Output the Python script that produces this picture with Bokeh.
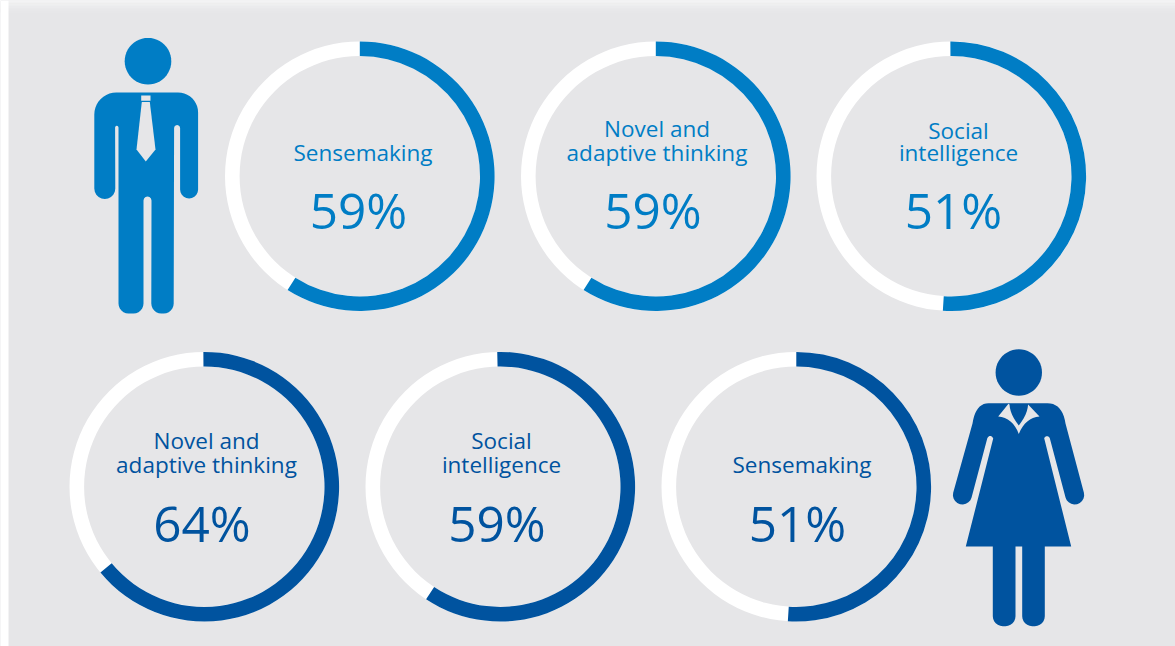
import math
from bokeh.plotting import figure
from bokeh.models import Range1d
from bokeh.core.properties import value
from bokeh.embed import file_html
from bokeh.resources import INLINE

# ---- data ----
men_labels = ["Sensemaking", "Novel and\nadaptive thinking", "Social\nintelligence"]
men_values = [59, 59, 51]
women_labels = ["Novel and\nadaptive thinking", "Social\nintelligence", "Sensemaking"]
women_values = [64, 59, 51]

# ---- style / layout ----
BG = "#e6e6e8"
MEN = "#007dc5"
WOMEN = "#00539f"
FONT = "Open Sans"
W, H = 1175, 646
R_OUT, R_IN = 134.8, 120.2
men_cx = [359.3, 655.3, 950.8]
women_cx = [203.8, 499.8, 795.8]
men_start_turn = [0.0, 0.0, -0.4]
men_end_turn = [0.0, 0.0, 0.0]
women_start_turn = [-0.4, -1.3, 0.0]
women_end_turn = [0.0, 1.0, 0.0]
men_label_x = [362.5, 656.5, 958.0]
women_label_x = [206.0, 501.0, 801.5]
men_pct_x = [358.0, 652.5, 953.0]
women_pct_x = [201.5, 496.5, 797.0]
men_gap = [24, 24, 22]
women_gap = [24, 24, 24]
men_cy, women_cy = 175.7, 486.2
LABEL_SIZE, PCT_SIZE = 22.5, 49.5
BASE_SHIFT = 0.4  # the svg text baseline sits this many font sizes below the anchor


def Y(y):
    """Page-pixel y (downwards) to plot y (upwards)."""
    return H - y


p = figure(width=W, height=H, x_range=Range1d(0, W), y_range=Range1d(0, H),
           output_backend="svg", toolbar_location=None, min_border=0,
           background_fill_color=BG, border_fill_color=BG, outline_line_color=None)
p.axis.visible = False
p.grid.visible = False


def shape(pts, color):
    p.patch([q[0] for q in pts], [Y(q[1]) for q in pts], fill_color=color, line_color=None)


def arc(cx, cy, r, a0, a1, n=10):
    """Points on an arc; angles in degrees, screen sense (y downwards)."""
    return [(cx + r * math.cos(math.radians(a0 + (a1 - a0) * i / n)),
             cy + r * math.sin(math.radians(a0 + (a1 - a0) * i / n))) for i in range(n + 1)]


def bez(a, c, b, n=10):
    """Quadratic curve from a to b, with control point c."""
    out = []
    for i in range(n + 1):
        t = i / n
        out.append(((1 - t) ** 2 * a[0] + 2 * t * (1 - t) * c[0] + t * t * b[0],
                    (1 - t) ** 2 * a[1] + 2 * t * (1 - t) * c[1] + t * t * b[1]))
    return out


# page edge: white left strip, soft light band at the top
top_shades = ["#f3f3f4", "#f1f1f2", "#efeff0", "#edeeef", "#ebebed", "#e9e9eb", "#e8e8ea", "#e7e7e9"]
for i, c in enumerate(top_shades):
    shape([(0, i * 1.5), (W, i * 1.5), (W, i * 1.5 + 1.6), (0, i * 1.5 + 1.6)], c)
shape([(0, 0), (8, 0), (8, H), (0, H)], "#ffffff")


def ring(cxs, cy, vals, labels, color, label_x, pct_x, gaps, start_turn, end_turn, label_dy, pct_dy):
    ys = [Y(cy)] * len(cxs)
    p.annular_wedge(x=cxs, y=ys, inner_radius=R_IN, outer_radius=R_OUT,
                    start_angle=0, end_angle=2 * math.pi - 1e-6, direction="anticlock",
                    fill_color="white", line_color=None)
    p.annular_wedge(x=cxs, y=ys, inner_radius=R_IN, outer_radius=R_OUT,
                    start_angle=[math.pi / 2 - math.radians(t) for t in start_turn],
                    end_angle=[math.pi / 2 - 2 * math.pi * v / 100 - math.radians(t)
                               for v, t in zip(vals, end_turn)],
                    direction="clock", fill_color=color, line_color=None)
    tx, ty, tt = [], [], []
    for lx, lab, gap in zip(label_x, labels, gaps):
        for i, line in enumerate(reversed(lab.split("\n"))):
            tx.append(lx)
            ty.append(Y(cy + label_dy - i * gap - BASE_SHIFT * LABEL_SIZE))
            tt.append(line)
    p.text(x=tx, y=ty, text=tt, text_font=value(FONT), text_font_size=f"{LABEL_SIZE}px",
           text_color=color, text_align="center", text_baseline="alphabetic")
    p.text(x=pct_x, y=[Y(cy + pct_dy - BASE_SHIFT * PCT_SIZE)] * len(cxs), text=[f"{v}%" for v in vals],
           text_font=value(FONT), text_font_size=f"{PCT_SIZE}px",
           text_color=color, text_align="center", text_baseline="alphabetic")


# ---- man ----
shape(arc(147.5, 60.7, 23.3, 0, 360, 48), MEN)
man = [(116, 92)]
man += arc(177.6, 112, 20, -90, 0)
man += arc(188.6, 189, 9, 0, 180)
man += arc(176.6, 127.5, 3, 0, -180, 6)
man += arc(163.2, 303, 10, 0, 90, 6)
man += arc(160.8, 303, 10, 90, 180, 6)
man += arc(147, 200, 4, 0, -180, 6)
man += arc(133, 303, 10, 0, 90, 6)
man += arc(128, 303, 10, 90, 180, 6)
man += arc(116.3, 127, 1.7, 0, -180, 6)
man += arc(104.3, 188, 10.5, 0, 180)
man += arc(115.8, 114, 22, 180, 270)
shape(man, MEN)
shape([(140.7, 95), (150, 95), (150, 100.3), (140.7, 100.3)], BG)
shape([(141.3, 101.5), (149.3, 101.5), (155, 149), (145.3, 161), (136, 149)], BG)

# ---- woman ----
shape(arc(1018.3, 372, 23.2, 0, 360, 48), WOMEN)
woman = [(988, 402.7)]
woman += bez((1047, 402.7), (1062, 403), (1065, 423))
woman += arc(1074.2, 494.5, 9.5, -14, 165)
woman += arc(1046.5, 438.5, 2.9, -15, -165, 5)
woman += [(1070.7, 546), (1044.3, 546)]
woman += arc(1034.3, 615.7, 10, 0, 90, 6)
woman += arc(1031.7, 615.7, 10, 90, 180, 6)
woman += [(1021.7, 546), (1015, 546)]
woman += arc(1005, 615.7, 10, 0, 90, 6)
woman += arc(1002.3, 615.7, 10, 90, 180, 6)
woman += [(992.3, 546), (965.3, 546), (992.7, 438)]
woman += arc(989.7, 438.5, 3, -15, -165, 5)
woman += arc(961.9, 494.5, 9.5, 15, 194)
woman += bez((972, 423), (975, 403), (988, 402.7))
shape(woman, WOMEN)
collar = [(1008, 403.3)]
collar += bez((1009, 404), (1009.5, 414), (1018.3, 425), 6)
collar += bez((1018.3, 425), (1027, 414), (1027.6, 404), 6)
collar += [(1039, 416)]
collar += bez((1039, 416), (1025, 417), (1018.3, 433.5), 8)
collar += bez((1018.3, 433.5), (1012, 417), (997.7, 416), 8)
shape(collar, BG)

# ---- rings ----
ring(men_cx, men_cy, men_values, men_labels, MEN, men_label_x, men_pct_x, men_gap,
     men_start_turn, men_end_turn, -14.5, 54.0)
ring(women_cx, women_cy, women_values, women_labels, WOMEN, women_label_x, women_pct_x, women_gap,
     women_start_turn, women_end_turn, -13.0, 56.0)

open("out.html", "w").write(file_html(p, INLINE))
